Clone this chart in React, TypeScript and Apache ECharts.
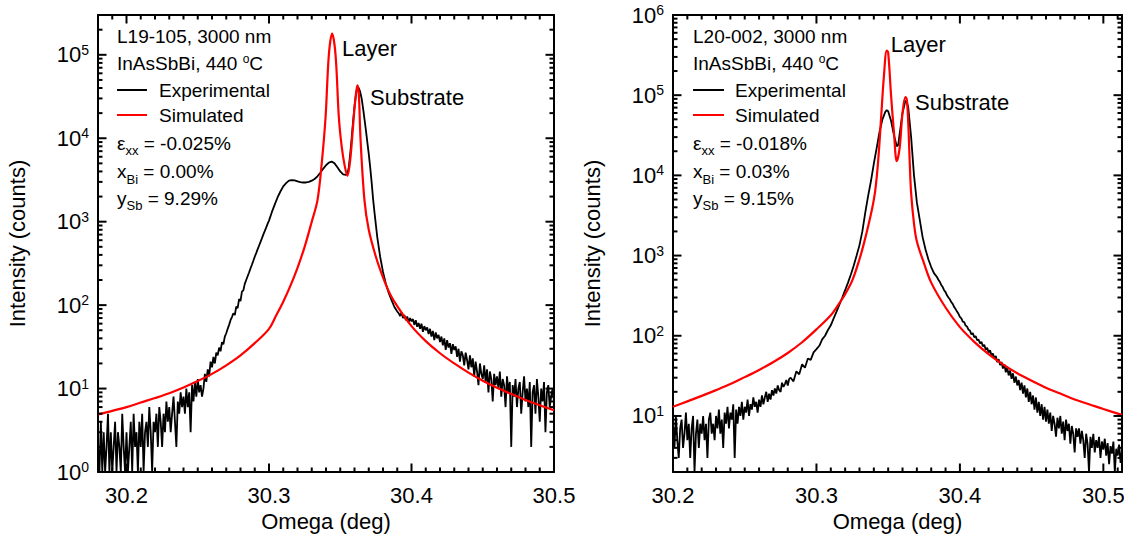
import React, { useEffect, useRef } from 'react';
import * as echarts from 'echarts';

const FONT = '"Liberation Sans", Arial, sans-serif';

// ---------- axes ----------
const LEFT_X_RANGE = [30.18, 30.5];
const LEFT_Y_RANGE = [1, 3e5];
const RIGHT_X_RANGE = [30.2, 30.513];
const RIGHT_Y_RANGE = [2, 1e6];
const X_MAJOR_TICKS = [30.2, 30.3, 30.4, 30.5];
const LEFT_Y_MAJOR_TICKS = [1, 10, 100, 1000, 10000, 100000];
const RIGHT_Y_MAJOR_TICKS = [10, 100, 1000, 10000, 100000, 1000000];
const DECADES = [1, 10, 100, 1000, 10000, 100000];
const MINOR_MULTIPLIERS = [2, 3, 4, 5, 6, 7, 8, 9];

// ---------- left panel: L19-105 ----------
// experimental, uniform part 30.180 .. 30.300 (step 0.001)
const LEFT_EXP_LOW_START = 30.18;
const LEFT_EXP_LOW_STEP = 0.001;
const LEFT_EXP_LOW = [
  2, 1, 4, 1, 3, 1, 2, 5, 1, 3,
  1, 2, 4, 1, 3, 2, 1, 5, 2, 1,
  3, 1, 2, 4, 1, 5, 2, 3, 1, 4,
  2, 5, 1, 3, 4, 2, 6, 3, 1, 4,
  3, 5, 2, 6, 4, 2, 5, 3, 7, 4,
  6, 3, 5, 8, 4, 2, 7, 5, 9, 6,
  8, 5, 10, 6, 9, 3, 11, 7, 12, 8,
  13, 9, 11, 8,
  10, 15, 12, 17, 14, 21, 18, 24, 20, 27,
  25, 31, 28, 36, 34, 42, 46, 52, 58, 66,
  72, 80, 76, 96, 92, 118, 112, 145, 150, 180,
  200, 222, 246, 275, 305, 340, 380, 420, 465, 515,
  570, 630, 700, 770, 850, 940, 1030,
];
// experimental, peak part
const LEFT_EXP_CORE_OMEGA = [
  30.302, 30.304, 30.306, 30.308, 30.31, 30.312, 30.314, 30.316, 30.318, 30.32,
  30.322, 30.324, 30.326, 30.328, 30.33, 30.332, 30.334, 30.336, 30.338, 30.34,
  30.342, 30.344, 30.346, 30.348, 30.35, 30.352, 30.354,
  30.355, 30.356, 30.357, 30.358, 30.359, 30.36, 30.361, 30.362, 30.363, 30.364,
  30.365, 30.366, 30.367, 30.368, 30.369, 30.37, 30.371, 30.372, 30.373, 30.374,
  30.376, 30.378, 30.38, 30.382, 30.384, 30.386, 30.388, 30.39,
];
const LEFT_EXP_CORE = [
  1300, 1600, 1950, 2300, 2650, 2900, 3100, 3150, 3120, 3050,
  2980, 2950, 2950, 3000, 3100, 3250, 3500, 3850, 4300, 4750,
  5100, 5250, 5000, 4500, 4000, 3700, 3650,
  3700, 4500, 6500, 10000, 16000, 24000, 33000, 40000, 40000, 36000,
  30000, 23000, 17000, 12500, 9000, 6500, 4500, 3000, 1900, 1300,
  650, 380, 250, 180, 140, 115, 95, 84,
];
// experimental, uniform tail 30.391 .. 30.500 (step 0.001)
const LEFT_EXP_HIGH_START = 30.391;
const LEFT_EXP_HIGH_STEP = 0.001;
const LEFT_EXP_HIGH = [
  80, 74, 82, 70, 76, 66, 73, 62, 70, 64,
  68, 58, 66, 55, 61, 52, 60, 48, 56, 50,
  54, 45, 52, 42, 49, 38, 47, 40, 44, 36,
  42, 33, 40, 29, 38, 31, 35, 26, 34, 29,
  32, 24, 30, 21, 28, 25, 19, 27, 22, 17,
  25, 18, 23, 14, 21, 16, 11, 20, 15, 13,
  19, 12, 17, 9, 16, 13, 7, 15, 11, 14,
  10, 16, 8, 13, 11, 6, 14, 9, 12, 2,
  11, 8, 13, 6, 10, 12, 5, 9, 14, 7,
  10, 6, 12, 2, 9, 11, 5, 13, 8, 4,
  10, 7, 12, 3, 9, 11, 6, 8, 10, 7,
];
// simulated
const LEFT_SIM_OMEGA = [
  30.18, 30.19, 30.2, 30.21, 30.22, 30.23, 30.24, 30.25, 30.26, 30.27, 30.28, 30.29, 30.3,
  30.305, 30.31, 30.315, 30.32, 30.325, 30.33,
  30.334, 30.337, 30.3397, 30.342, 30.3443, 30.3467, 30.349, 30.351, 30.353, 30.355,
  30.357, 30.359, 30.3605, 30.362, 30.363, 30.3642, 30.367, 30.37, 30.375, 30.38,
  30.385, 30.39, 30.4, 30.41, 30.42, 30.43, 30.44, 30.45, 30.46, 30.47,
  30.48, 30.49, 30.5,
];
const LEFT_SIM = [
  4.9, 5.4, 6.0, 6.8, 7.7, 8.8, 10.3, 12.3, 15, 19, 25, 35, 52,
  75, 110, 170, 280, 500, 1000,
  1800, 5000, 18000, 100000, 180000, 100000, 18000, 8000, 4800, 3550,
  5500, 14000, 28000, 43000, 35000, 10000, 1800, 800, 380, 215,
  135, 97, 56, 37, 26.5, 20, 15.5, 12.4, 10.2, 8.6,
  7.3, 6.3, 5.5,
];

// ---------- right panel: L20-002 ----------
const RIGHT_EXP_LOW_START = 30.2;
const RIGHT_EXP_LOW_STEP = 0.001;
const RIGHT_EXP_LOW = [
  8, 4, 10, 5, 3, 7, 9, 4, 6, 11,
  5, 8, 3, 7, 10, 2, 6, 9, 4, 8,
  6, 10, 5, 8, 3, 9, 11, 6, 8, 5,
  10, 7, 12, 6, 9, 4, 11, 8, 13, 7,
  11, 9, 14, 3, 12, 8, 13, 10, 15, 9,
  13, 11, 16, 10, 14, 12, 17, 13, 15, 11,
  16, 13, 18, 14, 17, 20, 15, 19, 16, 21,
  18, 22, 19, 24, 21, 20, 26, 23, 25, 28,
  24, 29,
];
const RIGHT_EXP_CORE_OMEGA = [
  30.282, 30.284, 30.286, 30.288, 30.29, 30.292, 30.294, 30.296, 30.298, 30.3,
  30.302, 30.304, 30.306, 30.308, 30.31, 30.312, 30.314, 30.316, 30.318, 30.32,
  30.322, 30.324, 30.326, 30.328, 30.33, 30.332, 30.334, 30.336, 30.338, 30.34,
  30.342, 30.344, 30.346, 30.348,
  30.349, 30.35, 30.352, 30.354, 30.356, 30.357, 30.358, 30.36, 30.362, 30.363,
  30.364, 30.366, 30.368, 30.37, 30.372, 30.374, 30.376, 30.378, 30.38, 30.382,
];
const RIGHT_EXP_CORE = [
  30, 27, 36, 33, 44, 40, 52, 50, 62, 68,
  75, 90, 100, 118, 135, 165, 200, 245, 300, 370,
  460, 580, 750, 1000, 1350, 2000, 3400, 5500, 8500, 14000,
  22000, 35000, 50000, 62000,
  65000, 63000, 48000, 32000, 23000, 24000, 33000, 60000, 85000, 83000,
  70000, 30000, 10000, 4600, 2800, 1700, 1200, 900, 720, 600,
];
const RIGHT_EXP_HIGH_START = 30.383;
const RIGHT_EXP_HIGH_STEP = 0.001;
const RIGHT_EXP_HIGH = [
  570, 540, 500, 470, 430, 405, 370, 350, 320, 300,
  285, 262, 250, 228, 215, 200, 188, 172, 165, 150,
  148, 134, 130, 119, 116, 104, 108, 96, 99, 88,
  90, 80, 84, 74, 77, 67, 71, 62, 66, 57,
  60, 52, 56, 47, 51, 43, 47, 39, 44, 35,
  40, 32, 37, 29, 34, 26, 31, 24, 28, 21,
  26, 19, 24, 17, 22, 15, 20, 14, 18, 12,
  17, 11, 15, 10, 14, 9, 13, 8.5, 12, 8,
  11, 6.5, 10, 8, 5.5, 9.5, 7, 10, 6, 8.5,
  5, 9, 6.5, 8, 4.5, 7.5, 6, 3.5, 7, 5.5,
  7, 4.5, 6.5, 5, 3, 6, 4.5, 2, 5.5, 4,
  6, 3.5, 5, 4, 5.5, 3, 4.8, 3.8, 5.2, 3.2,
  4.6, 2.5, 4.2, 3.4, 4.8, 2, 3.9, 3.2, 4.4, 2.6, 3.7,
];
const RIGHT_SIM_OMEGA = [
  30.2, 30.21, 30.22, 30.23, 30.24, 30.25, 30.26, 30.27, 30.28, 30.29,
  30.3, 30.31, 30.315, 30.32, 30.325, 30.33, 30.333, 30.336, 30.339, 30.341,
  30.343, 30.345, 30.347, 30.349, 30.35, 30.352, 30.354, 30.356, 30.358, 30.36,
  30.362, 30.363, 30.364, 30.365, 30.366, 30.368, 30.37, 30.375, 30.38, 30.39,
  30.4, 30.41, 30.42, 30.43, 30.44, 30.45, 30.46, 30.47, 30.48, 30.49,
  30.5, 30.513,
];
const RIGHT_SIM = [
  13, 15.2, 17.8, 21, 25, 30.5, 37.5, 47, 61, 83,
  120, 180, 240, 330, 490, 900, 1400, 2300, 4000, 6500,
  15000, 50000, 170000, 360000, 340000, 100000, 35000, 15000, 22000, 60000,
  95000, 88000, 45000, 15000, 6000, 2500, 1500, 800, 460, 225,
  128, 84, 59, 44, 34, 27.5, 22.5, 19, 16, 14,
  12.2, 10.3,
];

// ---------- helpers ----------
const uniform = (start: number, step: number, vals: number[]) =>
  vals.map((v, i) => [+(start + i * step).toFixed(4), v]);
const pairs = (xs: number[], ys: number[]) => xs.map((x, i) => [x, ys[i]]);

const xMinorTicks = (range: number[]) => {
  const out: number[] = [];
  for (let k = 3000; k <= 3060; k++) {
    const v = k / 100;
    if (v > range[0] && v < range[1] + 1e-9 && k % 10 !== 0) out.push(v);
  }
  return out;
};
const yMinorTicks = (range: number[]) => {
  const out: number[] = [];
  DECADES.forEach((d) =>
    MINOR_MULTIPLIERS.forEach((m) => {
      const v = d * m;
      if (v > range[0] && v < range[1]) out.push(v);
    })
  );
  return out;
};

const AX_LINE = { color: '#000', width: 2 };
const MAJOR_LEN = 8.5;
const MINOR_LEN = 4.5;

function xAxis(grid: number, range: number[], pos: string, labels: boolean, name?: string) {
  return {
    type: 'value', gridIndex: grid, min: range[0], max: range[1], position: pos,
    axisLine: { show: true, onZero: false, lineStyle: AX_LINE },
    axisTick: { show: false },
    axisLabel: labels
      ? { show: true, customValues: X_MAJOR_TICKS, fontSize: 22, fontFamily: FONT, color: '#000', margin: 12, formatter: (v: number) => v.toFixed(1) }
      : { show: false },
    splitLine: { show: false },
    minorTick: { show: false },
    name: name || '',
    nameLocation: 'middle',
    nameGap: 38,
    nameTextStyle: { fontSize: 22, fontFamily: FONT, color: '#000' },
  };
}

function yAxis(grid: number, range: number[], pos: string, ticks: number[] | null, name?: string) {
  return {
    type: 'log', logBase: 10, gridIndex: grid, min: range[0], max: range[1], position: pos,
    axisLine: { show: true, onZero: false, lineStyle: AX_LINE },
    axisTick: { show: false },
    axisLabel: ticks
      ? {
          show: true, customValues: ticks, margin: 9, color: '#000',
          formatter: (v: number) => `{b|10}{s|${Math.round(Math.log10(v))}}`,
          rich: {
            b: { fontSize: 22, fontFamily: FONT, color: '#000', lineHeight: 24 },
            s: { fontSize: 14, fontFamily: FONT, color: '#000', lineHeight: 14, verticalAlign: 'top' },
          },
        }
      : { show: false },
    splitLine: { show: false },
    minorTick: { show: false },
    name: name || '',
    nameLocation: 'middle',
    nameRotate: 90,
    nameGap: 70,
    nameTextStyle: { fontSize: 22, fontFamily: FONT, color: '#000' },
  };
}

// tick marks drawn by custom series through the axes' scales (inward, all four sides)
const tickStyle = () => ({ stroke: '#000', lineWidth: 2 });
function xTickSeries(xIdx: number, yIdx: number, xRange: number[], yRange: number[]) {
  const data = [
    ...X_MAJOR_TICKS.filter((v) => v >= xRange[0] && v <= xRange[1]).map((v) => [v, yRange[0], MAJOR_LEN]),
    ...xMinorTicks(xRange).map((v) => [v, yRange[0], MINOR_LEN]),
  ];
  return {
    type: 'custom', xAxisIndex: xIdx, yAxisIndex: yIdx, data, silent: true, clip: false, z: 10,
    renderItem: (params: any, api: any) => {
      const cs = params.coordSys;
      const x = api.coord([api.value(0), api.value(1)])[0];
      const len = api.value(2);
      const bottom = cs.y + cs.height;
      return {
        type: 'group',
        children: [
          { type: 'line', shape: { x1: x, y1: bottom, x2: x, y2: bottom - len }, style: tickStyle() },
          { type: 'line', shape: { x1: x, y1: cs.y, x2: x, y2: cs.y + len }, style: tickStyle() },
        ],
      };
    },
  };
}
function yTickSeries(xIdx: number, yIdx: number, xRange: number[], yRange: number[], yMajor: number[]) {
  const data = [
    ...yMajor.filter((v) => v >= yRange[0] && v <= yRange[1]).map((v) => [xRange[0], v, MAJOR_LEN]),
    ...yMinorTicks(yRange).map((v) => [xRange[0], v, MINOR_LEN]),
  ];
  return {
    type: 'custom', xAxisIndex: xIdx, yAxisIndex: yIdx, data, silent: true, clip: false, z: 10,
    renderItem: (params: any, api: any) => {
      const cs = params.coordSys;
      const y = api.coord([api.value(0), api.value(1)])[1];
      const len = api.value(2);
      const right = cs.x + cs.width;
      return {
        type: 'group',
        children: [
          { type: 'line', shape: { x1: cs.x, y1: y, x2: cs.x + len, y2: y }, style: tickStyle() },
          { type: 'line', shape: { x1: right, y1: y, x2: right - len, y2: y }, style: tickStyle() },
        ],
      };
    },
  };
}

// ---------- annotations ----------
const tok = (size: number, lh: number, extra: any = {}) => ({ fontSize: size, fontFamily: FONT, fill: '#000', lineHeight: lh, ...extra });
const RICH = {
  n: tok(19, 28),
  sub: tok(13, 12, { verticalAlign: 'bottom' }),
};
const RICH_SUP = {
  n: tok(19, 20),
  sup: tok(12, 12, { verticalAlign: 'top' }),
};

function plainText(x: number, y: number, text: string, size = 19) {
  return { type: 'text', x, y, silent: true, style: { text, fill: '#000', fontSize: size, fontFamily: FONT, align: 'left', verticalAlign: 'middle' } };
}
function richText(x: number, y: number, text: string, rich: any) {
  return { type: 'text', x, y, silent: true, style: { text, rich, fill: '#000', fontSize: 19, fontFamily: FONT, align: 'left', verticalAlign: 'middle' } };
}
function legendLine(x1: number, x2: number, y: number, color: string) {
  return { type: 'line', silent: true, shape: { x1, y1: y, x2, y2: y }, style: { stroke: color, lineWidth: 2 } };
}

function panelTexts(x0: number, lineX2: number, textX: number, sample: string, eps: string, xbi: string, ysb: string) {
  return [
    plainText(x0, 36.7, `${sample}, 3000 nm`),
    richText(x0, 63.3, '{n|InAsSbBi, 440 }{sup|o}{n|C}', RICH_SUP),
    legendLine(x0, lineX2, 90, '#000'),
    plainText(textX, 90, 'Experimental'),
    legendLine(x0, lineX2, 115, '#ff0000'),
    plainText(textX, 115, 'Simulated'),
    richText(x0, 143.3, `{n|ε}{sub|xx}{n| = ${eps}}`, RICH),
    richText(x0, 171.7, `{n|x}{sub|Bi}{n| = ${xbi}}`, RICH),
    richText(x0, 198.3, `{n|y}{sub|Sb}{n| = ${ysb}}`, RICH),
  ];
}

const LEFT_GRID = { left: 98, top: 15, width: 456, height: 457 };
const RIGHT_GRID = { left: 673, top: 15, width: 449, height: 457 };

export default function App() {
  const ref = useRef<HTMLDivElement>(null);
  useEffect(() => {
    const chart = echarts.init(ref.current!, null, { renderer: 'svg' });
    const leftExp = [
      ...uniform(LEFT_EXP_LOW_START, LEFT_EXP_LOW_STEP, LEFT_EXP_LOW),
      ...pairs(LEFT_EXP_CORE_OMEGA, LEFT_EXP_CORE),
      ...uniform(LEFT_EXP_HIGH_START, LEFT_EXP_HIGH_STEP, LEFT_EXP_HIGH),
    ];
    const rightExp = [
      ...uniform(RIGHT_EXP_LOW_START, RIGHT_EXP_LOW_STEP, RIGHT_EXP_LOW),
      ...pairs(RIGHT_EXP_CORE_OMEGA, RIGHT_EXP_CORE),
      ...uniform(RIGHT_EXP_HIGH_START, RIGHT_EXP_HIGH_STEP, RIGHT_EXP_HIGH),
    ];

    const texts = [
      ...panelTexts(117, 147, 159, 'L19-105', '-0.025%', '0.00%', '9.29%'),
      plainText(342, 48.8, 'Layer', 22),
      plainText(370, 97.5, 'Substrate', 22),
      ...panelTexts(693, 724, 735, 'L20-002', '-0.018%', '0.03%', '9.15%'),
      plainText(890.7, 44, 'Layer', 22),
      plainText(915, 102.5, 'Substrate', 22),
    ];

    const option: any = {
      animation: false,
      backgroundColor: '#fff',
      grid: [
        { ...LEFT_GRID, containLabel: false, outerBoundsMode: 'none' },
        { ...RIGHT_GRID, containLabel: false, outerBoundsMode: 'none' },
      ],
      xAxis: [
        xAxis(0, LEFT_X_RANGE, 'bottom', true, 'Omega (deg)'),
        xAxis(0, LEFT_X_RANGE, 'top', false),
        xAxis(1, RIGHT_X_RANGE, 'bottom', true, 'Omega (deg)'),
        xAxis(1, RIGHT_X_RANGE, 'top', false),
      ],
      yAxis: [
        yAxis(0, LEFT_Y_RANGE, 'left', LEFT_Y_MAJOR_TICKS, 'Intensity (counts)'),
        yAxis(0, LEFT_Y_RANGE, 'right', null),
        yAxis(1, RIGHT_Y_RANGE, 'left', RIGHT_Y_MAJOR_TICKS, 'Intensity (counts)'),
        yAxis(1, RIGHT_Y_RANGE, 'right', null),
      ],
      series: [
        { name: 'Experimental', type: 'line', xAxisIndex: 0, yAxisIndex: 0, data: leftExp, showSymbol: false, symbol: 'none', lineStyle: { color: '#000', width: 1.8 }, clip: true, z: 2 },
        { name: 'Simulated', type: 'line', xAxisIndex: 0, yAxisIndex: 0, data: pairs(LEFT_SIM_OMEGA, LEFT_SIM), showSymbol: false, symbol: 'none', smooth: 0.35, lineStyle: { color: '#ff0000', width: 2.2 }, clip: true, z: 3 },
        { name: 'Experimental', type: 'line', xAxisIndex: 2, yAxisIndex: 2, data: rightExp, showSymbol: false, symbol: 'none', lineStyle: { color: '#000', width: 1.8 }, clip: true, z: 2 },
        { name: 'Simulated', type: 'line', xAxisIndex: 2, yAxisIndex: 2, data: pairs(RIGHT_SIM_OMEGA, RIGHT_SIM), showSymbol: false, symbol: 'none', smooth: 0.35, lineStyle: { color: '#ff0000', width: 2.2 }, clip: true, z: 3 },
        xTickSeries(0, 0, LEFT_X_RANGE, LEFT_Y_RANGE),
        yTickSeries(0, 0, LEFT_X_RANGE, LEFT_Y_RANGE, LEFT_Y_MAJOR_TICKS),
        xTickSeries(2, 2, RIGHT_X_RANGE, RIGHT_Y_RANGE),
        yTickSeries(2, 2, RIGHT_X_RANGE, RIGHT_Y_RANGE, RIGHT_Y_MAJOR_TICKS),
      ],
      graphic: texts,
    };
    chart.setOption(option);
    return () => chart.dispose();
  }, []);
  return <div ref={ref} style={{ position: 'fixed', left: 0, top: 0, width: 1124, height: 537, background: '#fff' }} />;
}
